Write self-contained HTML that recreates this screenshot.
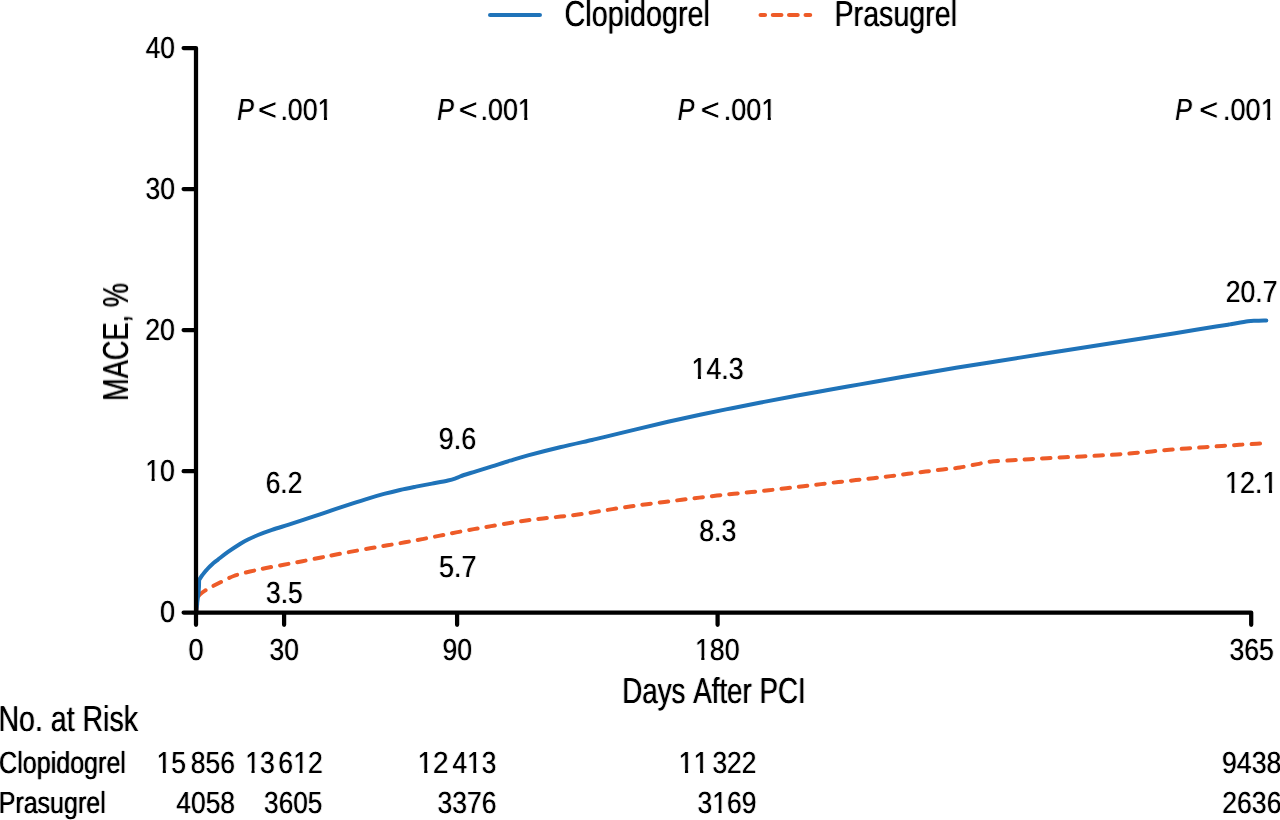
<!DOCTYPE html>
<html lang="en">
<head>
<meta charset="utf-8">
<title>MACE by Days After PCI</title>
<style>
html,body{margin:0;padding:0;background:#fff;}
body{width:1280px;height:820px;overflow:hidden;}
svg{display:block;}
svg text{font-family:"Liberation Sans", sans-serif;fill:#000;font-kerning:none;text-rendering:geometricPrecision;}
</style>
</head>
<body>
<svg width="1280" height="820" viewBox="0 0 1280 820" role="img" aria-label="MACE by days after PCI for clopidogrel and prasugrel">
<defs>
<filter id="bl" filterUnits="userSpaceOnUse" x="0" y="0" width="1280" height="820"><feConvolveMatrix order="3 1" kernelMatrix="0.18 1 0.18" divisor="1" preserveAlpha="false" edgeMode="none"/></filter>
<filter id="bs" filterUnits="userSpaceOnUse" x="0" y="0" width="1280" height="820"><feConvolveMatrix order="3 1" kernelMatrix="0.15 1 0.15" divisor="1" preserveAlpha="false" edgeMode="none"/></filter>
<filter id="bt" filterUnits="userSpaceOnUse" x="0" y="0" width="1280" height="820"><feConvolveMatrix order="3 1" kernelMatrix="0.23 1 0.23" divisor="1" preserveAlpha="false" edgeMode="none"/></filter>
<filter id="blr" x="-5%" y="-30%" width="110%" height="160%"><feConvolveMatrix order="3 1" kernelMatrix="0.18 1 0.18" divisor="1" preserveAlpha="false" edgeMode="none"/></filter>
</defs>
<rect width="1280" height="820" fill="#fff"/>
<path d="M196.60 611.00L197.60 598.50C197.60 598.50 198.17 596.32 199.40 595.00C200.63 593.68 201.98 592.48 205.00 590.60C208.02 588.73 212.71 586.18 217.50 583.75C222.29 581.32 228.33 578.03 233.75 576.00C239.17 573.97 244.79 572.86 250.00 571.57C255.21 570.28 259.38 569.39 265.00 568.25C270.62 567.12 277.50 565.93 283.75 564.76C290.00 563.58 296.25 562.42 302.50 561.21C308.75 560.00 316.04 558.53 321.25 557.50C326.46 556.47 328.96 555.96 333.75 555.02C338.54 554.09 343.96 553.02 350.00 551.90C356.04 550.78 363.75 549.39 370.00 548.30C376.25 547.20 381.67 546.32 387.50 545.33C393.33 544.33 399.17 543.36 405.00 542.32C410.83 541.28 416.67 540.21 422.50 539.09C428.33 537.97 434.38 536.74 440.00 535.63C445.62 534.51 450.62 533.47 456.25 532.39C461.88 531.30 467.92 530.17 473.75 529.13C479.58 528.08 485.21 527.12 491.25 526.10C497.29 525.07 504.17 523.89 510.00 522.95C515.83 522.02 520.73 521.23 526.25 520.47C531.77 519.71 537.38 519.06 543.10 518.42C548.83 517.77 554.77 517.26 560.60 516.61C566.43 515.96 572.27 515.30 578.10 514.51C583.93 513.72 589.87 512.78 595.60 511.88C601.33 510.98 606.77 510.03 612.50 509.12C618.23 508.22 624.27 507.27 630.00 506.45C635.73 505.62 641.17 504.90 646.90 504.16C652.63 503.41 658.57 502.69 664.40 501.96C670.23 501.23 676.07 500.50 681.90 499.78C687.73 499.06 693.57 498.32 699.40 497.62C705.23 496.92 711.12 496.23 716.90 495.59C722.68 494.94 728.32 494.36 734.10 493.77C739.88 493.18 745.83 492.64 751.60 492.06C757.38 491.48 762.98 490.92 768.75 490.29C774.52 489.66 780.46 488.97 786.25 488.29C792.04 487.61 797.71 486.92 803.50 486.22C809.29 485.53 815.17 484.81 821.00 484.12C826.83 483.42 832.68 482.71 838.50 482.05C844.32 481.38 850.08 480.75 855.90 480.10C861.72 479.46 867.62 478.85 873.40 478.18C879.18 477.52 884.82 476.84 890.60 476.11C896.38 475.39 902.27 474.59 908.10 473.83C913.93 473.07 919.83 472.29 925.60 471.57C931.38 470.84 937.02 470.16 942.75 469.49C948.48 468.81 954.21 468.40 960.00 467.50C965.79 466.60 972.50 465.07 977.50 464.10C982.50 463.13 984.21 462.34 990.00 461.70C995.79 461.06 1005.62 460.68 1012.25 460.26C1018.88 459.83 1023.94 459.51 1029.75 459.16C1035.56 458.81 1041.29 458.49 1047.10 458.17C1052.91 457.85 1058.77 457.55 1064.60 457.26C1070.43 456.96 1076.27 456.68 1082.10 456.39C1087.93 456.10 1093.77 455.83 1099.60 455.50C1105.43 455.18 1111.28 454.84 1117.10 454.43C1122.92 454.02 1128.70 453.53 1134.50 453.03C1140.30 452.52 1146.08 451.94 1151.90 451.41C1157.72 450.88 1163.57 450.33 1169.40 449.84C1175.23 449.34 1181.07 448.88 1186.90 448.43C1192.73 447.99 1198.57 447.56 1204.40 447.14C1210.23 446.73 1216.07 446.32 1221.90 445.93C1227.73 445.55 1233.57 445.17 1239.40 444.81C1245.23 444.45 1253.27 443.97 1256.90 443.75C1260.53 443.53 1260.48 443.54 1261.20 443.50" fill="none" stroke="#ee5b28" stroke-width="4.0" stroke-dasharray="8.5 9.0" stroke-dashoffset="1.55" stroke-linecap="round" stroke-linejoin="round"/>
<path d="M196.30 611.50L197.30 602.00L198.60 592.00L199.00 586.00L199.10 580.20C199.10 580.20 199.85 578.60 201.00 577.00C202.15 575.40 204.83 572.05 206.00 570.60C207.17 569.15 206.92 569.40 208.00 568.30C209.08 567.20 211.33 565.07 212.50 564.00C213.67 562.93 214.08 562.63 215.00 561.90C215.92 561.17 215.83 561.26 218.00 559.60C220.17 557.94 224.33 554.56 228.00 551.95C231.67 549.34 236.67 546.02 240.00 543.95C243.33 541.88 245.00 540.99 248.00 539.50C251.00 538.01 254.00 536.59 258.00 534.99C262.00 533.39 267.00 531.59 272.00 529.90C277.00 528.21 282.67 526.54 288.00 524.84C293.33 523.14 298.67 521.45 304.00 519.69C309.33 517.93 314.67 516.09 320.00 514.29C325.33 512.49 330.67 510.67 336.00 508.89C341.33 507.11 346.67 505.32 352.00 503.60C357.33 501.88 362.67 500.17 368.00 498.56C373.33 496.95 378.67 495.38 384.00 493.94C389.33 492.50 394.67 491.16 400.00 489.94C405.33 488.72 410.67 487.68 416.00 486.62C421.33 485.57 426.67 484.65 432.00 483.62C437.33 482.60 444.00 481.40 448.00 480.50C452.00 479.60 453.33 479.12 456.00 478.20C458.67 477.28 460.67 476.13 464.00 475.00C467.33 473.87 471.33 472.84 476.00 471.41C480.67 469.98 486.33 468.19 492.00 466.41C497.67 464.62 504.00 462.54 510.00 460.70C516.00 458.86 519.67 457.63 528.00 455.38C536.33 453.14 549.33 449.82 560.00 447.25C570.67 444.68 584.67 441.64 592.00 439.95C599.33 438.27 596.67 438.92 604.00 437.16C611.33 435.40 625.33 431.93 636.00 429.38C646.67 426.82 657.33 424.25 668.00 421.81C678.67 419.38 689.33 417.02 700.00 414.75C710.67 412.48 721.33 410.33 732.00 408.19C742.67 406.04 753.33 403.94 764.00 401.88C774.67 399.81 785.33 397.79 796.00 395.81C806.67 393.84 817.33 391.91 828.00 390.01C838.67 388.11 849.33 386.26 860.00 384.40C870.67 382.54 881.33 380.69 892.00 378.82C902.67 376.96 913.33 375.02 924.00 373.19C934.67 371.35 945.33 369.56 956.00 367.82C966.67 366.09 977.33 364.47 988.00 362.77C998.67 361.08 1009.33 359.36 1020.00 357.64C1030.67 355.91 1041.33 354.13 1052.00 352.44C1062.67 350.74 1076.00 348.70 1084.00 347.46C1092.00 346.22 1092.00 346.23 1100.00 345.00C1108.00 343.77 1121.33 341.73 1132.00 340.06C1142.67 338.40 1153.33 336.73 1164.00 335.00C1174.67 333.27 1187.33 331.10 1196.00 329.68C1204.67 328.27 1210.67 327.35 1216.00 326.52C1221.33 325.68 1225.33 325.10 1228.00 324.69C1230.67 324.27 1228.67 324.59 1232.00 324.03C1235.33 323.47 1244.00 321.84 1248.00 321.30C1252.00 320.76 1253.33 320.94 1256.00 320.80C1258.67 320.66 1262.28 320.52 1264.00 320.45C1265.72 320.38 1265.92 320.41 1266.30 320.40" fill="none" stroke="#1f73b9" stroke-width="4.0" stroke-linecap="round" stroke-linejoin="round"/>
<path d="M183.6 48.0H196.0V612.6H1251.2V624.8M196.0 189.1H183.6M196.0 330.1H183.6M196.0 471.2H183.6M196.0 612.6H183.6M196.0 612.6V624.8M284.1 612.6V624.8M457.1 612.6V624.8M717.6 612.6V624.8" fill="none" stroke="#000" stroke-width="4.25" stroke-linejoin="round" stroke-linecap="round"/>
<path d="M490.1 15H539.9" fill="none" stroke="#1f73b9" stroke-width="4.2" stroke-linecap="round"/>
<path d="M760.60 15H765.00M772.85 15H781.40M789.10 15H797.65M805.60 15H810.15" fill="none" stroke="#ee5b28" stroke-width="4.2" stroke-linecap="round"/>
<g filter="url(#bl)">
<text y="26" font-size="36.0" x="564.56" textLength="145.41" lengthAdjust="spacingAndGlyphs">Clopidogrel</text>
<text y="26" font-size="36.0" x="834.51" textLength="122.55" lengthAdjust="spacingAndGlyphs">Prasugrel</text>
<text y="703" font-size="36.0" x="622.28" textLength="183.49" lengthAdjust="spacingAndGlyphs">Days After PCI</text>
<text y="731" font-size="36.0" x="-1.58" textLength="139.59" lengthAdjust="spacingAndGlyphs">No. at Risk</text>
</g>
<g filter="url(#bt)">
<text y="773" font-size="30.5" x="-0.95" textLength="126.87" lengthAdjust="spacingAndGlyphs">Clopidogrel</text>
<text y="813" font-size="30.5" x="-1.30" textLength="107.02" lengthAdjust="spacingAndGlyphs">Prasugrel</text>
</g>
<g filter="url(#bs)">
<text y="58" font-size="30.5" x="145.64" textLength="29.24" lengthAdjust="spacingAndGlyphs">40</text>
<text y="199" font-size="30.5" x="145.44" textLength="29.45" lengthAdjust="spacingAndGlyphs">30</text>
<text y="340" font-size="30.5" x="145.16" textLength="29.73" lengthAdjust="spacingAndGlyphs">20</text>
<text y="481" font-size="30.5" x="145.23" textLength="29.66" lengthAdjust="spacingAndGlyphs">10</text>
<text y="622" font-size="30.5" x="159.91" textLength="15.10" lengthAdjust="spacingAndGlyphs">0</text>
<text y="660" font-size="30.5" x="188.51" textLength="15.10" lengthAdjust="spacingAndGlyphs">0</text>
<text y="660" font-size="30.5" x="269.54" textLength="29.34" lengthAdjust="spacingAndGlyphs">30</text>
<text y="660" font-size="30.5" x="442.40" textLength="29.59" lengthAdjust="spacingAndGlyphs">90</text>
<text y="660" font-size="30.5" x="694.93" textLength="44.70" lengthAdjust="spacingAndGlyphs">180</text>
<text y="660" font-size="30.5" x="1229.44" textLength="44.42" lengthAdjust="spacingAndGlyphs">365</text>
<text y="493" font-size="30.5" x="265.68" textLength="36.75" lengthAdjust="spacingAndGlyphs">6.2</text>
<text y="603" font-size="30.5" x="265.94" textLength="36.72" lengthAdjust="spacingAndGlyphs">3.5</text>
<text y="449" font-size="30.5" x="438.79" textLength="37.43" lengthAdjust="spacingAndGlyphs">9.6</text>
<text y="577" font-size="30.5" x="438.92" textLength="37.53" lengthAdjust="spacingAndGlyphs">5.7</text>
<text y="379" font-size="30.5" x="691.53" textLength="52.11" lengthAdjust="spacingAndGlyphs">14.3</text>
<text y="541" font-size="30.5" x="699.20" textLength="37.11" lengthAdjust="spacingAndGlyphs">8.3</text>
<text y="302" font-size="30.5" x="1225.77" textLength="51.69" lengthAdjust="spacingAndGlyphs">20.7</text>
<text y="493" font-size="30.5" x="1225.02" textLength="52.49" lengthAdjust="spacingAndGlyphs">12.1</text>
<text y="120" font-size="30.5"><tspan x="237.35" textLength="16.62" lengthAdjust="spacingAndGlyphs" font-style="italic">P</tspan> <tspan x="258.08" textLength="18.90" lengthAdjust="spacingAndGlyphs">&lt;</tspan> <tspan x="280.39" textLength="52.06" lengthAdjust="spacingAndGlyphs">.001</tspan></text>
<text y="120" font-size="30.5"><tspan x="437.35" textLength="16.62" lengthAdjust="spacingAndGlyphs" font-style="italic">P</tspan> <tspan x="458.88" textLength="18.90" lengthAdjust="spacingAndGlyphs">&lt;</tspan> <tspan x="480.48" textLength="52.33" lengthAdjust="spacingAndGlyphs">.001</tspan></text>
<text y="120" font-size="30.5"><tspan x="677.75" textLength="16.62" lengthAdjust="spacingAndGlyphs" font-style="italic">P</tspan> <tspan x="700.88" textLength="18.90" lengthAdjust="spacingAndGlyphs">&lt;</tspan> <tspan x="723.77" textLength="52.54" lengthAdjust="spacingAndGlyphs">.001</tspan></text>
<text y="120" font-size="30.5"><tspan x="1175.15" textLength="16.62" lengthAdjust="spacingAndGlyphs" font-style="italic">P</tspan> <tspan x="1199.28" textLength="18.90" lengthAdjust="spacingAndGlyphs">&lt;</tspan> <tspan x="1223.07" textLength="52.65" lengthAdjust="spacingAndGlyphs">.001</tspan></text>
<text y="773" font-size="30.5"><tspan x="156.50" textLength="29.52" lengthAdjust="spacingAndGlyphs">15</tspan> <tspan x="190.81" textLength="44.19" lengthAdjust="spacingAndGlyphs">856</tspan></text>
<text y="773" font-size="30.5"><tspan x="245.16" textLength="29.67" lengthAdjust="spacingAndGlyphs">13</tspan> <tspan x="278.37" textLength="44.32" lengthAdjust="spacingAndGlyphs">612</tspan></text>
<text y="773" font-size="30.5"><tspan x="417.59" textLength="30.94" lengthAdjust="spacingAndGlyphs">12</tspan> <tspan x="452.44" textLength="43.80" lengthAdjust="spacingAndGlyphs">413</tspan></text>
<text y="773" font-size="30.5"><tspan x="678.51" textLength="30.20" lengthAdjust="spacingAndGlyphs">11</tspan> <tspan x="712.51" textLength="43.87" lengthAdjust="spacingAndGlyphs">322</tspan></text>
<text y="773" font-size="30.5" x="1222.00" textLength="59.50" lengthAdjust="spacingAndGlyphs">9438</text>
<text y="813" font-size="30.5" x="176.24" textLength="58.84" lengthAdjust="spacingAndGlyphs">4058</text>
<text y="813" font-size="30.5" x="264.10" textLength="58.34" lengthAdjust="spacingAndGlyphs">3605</text>
<text y="813" font-size="30.5" x="437.49" textLength="58.89" lengthAdjust="spacingAndGlyphs">3376</text>
<text y="813" font-size="30.5" x="697.49" textLength="58.92" lengthAdjust="spacingAndGlyphs">3169</text>
<text y="813" font-size="30.5" x="1222.27" textLength="59.22" lengthAdjust="spacingAndGlyphs">2636</text>
</g>
<text filter="url(#blr)" transform="translate(128.00 398.70) rotate(-90)" y="0" font-size="36.0" x="-2.17" textLength="117.70" lengthAdjust="spacingAndGlyphs">MACE, %</text>
<path d="M145.66 477.52H151.54V481.80H145.66ZM154.70 477.52H160.36V481.80H154.70ZM695.37 656.52H701.27V660.80H695.37ZM704.43 656.52H710.12V660.80H704.43ZM691.97 375.52H697.86V379.80H691.97ZM701.03 375.52H706.71V379.80H701.03ZM1225.48 489.52H1231.40V493.80H1225.48ZM1234.59 489.52H1240.30V493.80H1234.59ZM1262.97 489.52H1268.90V493.80H1262.97ZM1272.08 489.52H1277.80V493.80H1272.08ZM318.02 116.52H323.90V120.80H318.02ZM327.07 116.52H332.75V120.80H327.07ZM518.30 116.52H524.22V120.80H518.30ZM527.39 116.52H533.10V120.80H527.39ZM761.76 116.52H767.69V120.80H761.76ZM770.87 116.52H776.60V120.80H770.87ZM1261.13 116.52H1267.07V120.80H1261.13ZM1270.27 116.52H1276.00V120.80H1270.27ZM156.92 769.52H162.77V773.80H156.92ZM165.92 769.52H171.56V773.80H165.92ZM245.59 769.52H251.47V773.80H245.59ZM254.63 769.52H260.29V773.80H254.63ZM293.57 769.52H299.42V773.80H293.57ZM302.57 769.52H308.22V773.80H302.57ZM418.11 769.52H424.18V773.80H418.11ZM427.44 769.52H433.30V773.80H427.44ZM467.44 769.52H473.24V773.80H467.44ZM476.36 769.52H481.96V773.80H476.36ZM678.98 769.52H684.94V773.80H678.98ZM688.14 769.52H693.89V773.80H688.14ZM694.08 769.52H700.04V773.80H694.08ZM703.24 769.52H708.99V773.80H703.24ZM712.64 809.52H718.48V813.80H712.64ZM721.62 809.52H727.26V813.80H721.62Z" fill="#fff"/>
</svg>
</body>
</html>
